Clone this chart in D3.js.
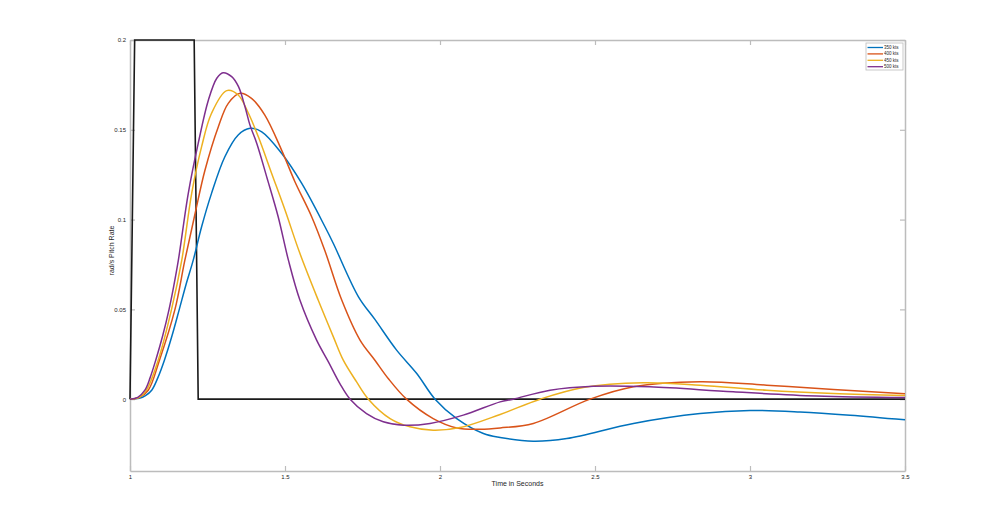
<!DOCTYPE html>
<html>
<head>
<meta charset="utf-8">
<script src="https://cdn.jsdelivr.net/npm/d3@7"></script>
<style>
    body { margin: 0; background: #fff; }
    text { font-family: "Liberation Sans", Arial, sans-serif; fill: #262626; }
</style>
</head>
<body>
<div class="chartDiv"></div>
<script>
"use strict";

//
/* Data: */
//

// [time (s), pitch rate (rad/s)]
var inputStep = [[1.0, 0], [1.015, 0.2], [1.207, 0.2], [1.22, 0], [3.5, 0]];

var kts350 = [[1.0, 0], [1.03, 0.0005], [1.05, 0.002], [1.07, 0.005], [1.09, 0.012], [1.111, 0.0217], [1.135, 0.035],
    [1.159, 0.05], [1.181, 0.064], [1.204, 0.0774], [1.231, 0.096], [1.263, 0.1146], [1.306, 0.135], [1.349, 0.1471],
    [1.387, 0.1508], [1.425, 0.1489], [1.489, 0.1369], [1.554, 0.1201], [1.629, 0.096], [1.656, 0.0867],
    [1.737, 0.057], [1.79, 0.0444], [1.86, 0.0273], [1.925, 0.0143], [1.984, 0], [2.054, -0.0108], [2.14, -0.0191],
    [2.194, -0.0213], [2.301, -0.0234], [2.409, -0.0219], [2.624, -0.0135], [2.839, -0.008], [3.0, -0.0063],
    [3.161, -0.0071], [3.323, -0.0089], [3.5, -0.0115]];

var kts400 = [[1.0, 0], [1.03, 0.001], [1.059, 0.005], [1.095, 0.0217], [1.145, 0.05], [1.177, 0.0774], [1.21, 0.1034],
    [1.242, 0.1276], [1.285, 0.1517], [1.317, 0.1647], [1.355, 0.1703], [1.392, 0.1675], [1.435, 0.1582],
    [1.489, 0.1387], [1.532, 0.1211], [1.586, 0.1016], [1.629, 0.0825], [1.683, 0.0552], [1.742, 0.0329],
    [1.79, 0.0217], [1.833, 0.0115], [1.892, 0], [1.978, -0.0108], [2.054, -0.016], [2.129, -0.0167], [2.194, -0.016],
    [2.301, -0.0135], [2.484, 0], [2.624, 0.0069], [2.839, 0.0097], [3.054, 0.0078], [3.269, 0.0054], [3.5, 0.003]];

var kts450 = [[1.0, 0], [1.03, 0.001], [1.053, 0.005], [1.091, 0.0217], [1.134, 0.05], [1.167, 0.0774], [1.199, 0.1146],
    [1.231, 0.1406], [1.263, 0.1592], [1.312, 0.1718], [1.349, 0.1694], [1.382, 0.1592], [1.414, 0.1461],
    [1.457, 0.1257], [1.5, 0.1053], [1.548, 0.0812], [1.607, 0.0552], [1.656, 0.0347], [1.688, 0.0217],
    [1.731, 0.0096], [1.769, 0], [1.839, -0.0108], [1.903, -0.0154], [1.978, -0.0173], [2.065, -0.0158],
    [2.194, -0.0085], [2.323, 0], [2.462, 0.0065], [2.656, 0.0091], [2.839, 0.0078], [3.054, 0.005], [3.269, 0.0032],
    [3.5, 0.0021]];

var kts500 = [[1.0, 0], [1.025, 0.001], [1.048, 0.005], [1.065, 0.012], [1.083, 0.0217], [1.105, 0.035], [1.126, 0.05],
    [1.14, 0.062], [1.156, 0.0774], [1.188, 0.1146], [1.22, 0.1424], [1.253, 0.1666], [1.28, 0.1787], [1.3, 0.1818],
    [1.328, 0.1796], [1.35, 0.174], [1.371, 0.1628], [1.387, 0.1526], [1.409, 0.1424], [1.441, 0.1238],
    [1.478, 0.1016], [1.511, 0.0774], [1.548, 0.0552], [1.602, 0.0329], [1.64, 0.0208], [1.677, 0.0087], [1.71, 0],
    [1.763, -0.008], [1.817, -0.0126], [1.882, -0.0145], [1.968, -0.0135], [2.075, -0.0089], [2.194, -0.0015],
    [2.236, 0], [2.355, 0.005], [2.495, 0.0072], [2.677, 0.0069], [2.946, 0.0041], [3.215, 0.0018], [3.5, 0.0009]];

var seriesNames = ["350 kts", "400 kts", "450 kts", "500 kts"];
var seriesData = [kts350, kts400, kts450, kts500];
var seriesColors = ["#0072BD", "#D95319", "#EDB120", "#7E2F8E"];

var xTicks = [1, 1.5, 2, 2.5, 3, 3.5];
var yTicks = [0, 0.05, 0.1, 0.15, 0.2];

var xTitle = "Time in Seconds";
var yTitle = "rad/s Pitch Rate";


//
/* Chart: */
//

var width = 1000;
var height = 529;
var margin = { top: 40, right: 95, bottom: 58, left: 130 };

var plotW = width - margin.left - margin.right;
var plotH = height - margin.top - margin.bottom;

var xScale = d3.scaleLinear().domain([1, 3.5]).range([0, plotW]);
var yScale = d3.scaleLinear().domain([-0.04, 0.2]).range([plotH, 0]);

var svg = d3.select(".chartDiv").append("svg")
    .attr("width", width)
    .attr("height", height);

var g = svg.append("g")
    .attr("transform", "translate(" + margin.left + "," + margin.top + ")");

// ticks inside the box, on all four sides
var tickLen = 5;
var axisColor = "#bcbcbc";

var xAxisBottom = d3.axisBottom(xScale).tickValues(xTicks).tickSizeInner(-tickLen).tickSizeOuter(0)
    .tickPadding(4).tickFormat(d3.format("~g"));
var xAxisTop = d3.axisTop(xScale).tickValues(xTicks).tickSizeInner(-tickLen).tickSizeOuter(0).tickFormat("");
var yAxisLeft = d3.axisLeft(yScale).tickValues(yTicks).tickSizeInner(-tickLen).tickSizeOuter(0)
    .tickPadding(4).tickFormat(d3.format("~g"));
var yAxisRight = d3.axisRight(yScale).tickValues(yTicks).tickSizeInner(-tickLen).tickSizeOuter(0).tickFormat("");

var axes = [
    g.append("g").attr("transform", "translate(0," + plotH + ")").call(xAxisBottom),
    g.append("g").call(xAxisTop),
    g.append("g").call(yAxisLeft),
    g.append("g").attr("transform", "translate(" + plotW + ",0)").call(yAxisRight)
];

axes.forEach(function(a)
{
    a.select(".domain").attr("stroke", axisColor).attr("stroke-width", 1.5);
    a.selectAll(".tick line").attr("stroke", axisColor).attr("stroke-width", 1.2);
    a.selectAll(".tick text").attr("font-size", 6).attr("fill", "#262626");
});

// axis titles
g.append("text")
    .attr("x", plotW / 2)
    .attr("y", plotH + 15)
    .attr("text-anchor", "middle")
    .attr("font-size", 7)
    .text(xTitle);

g.append("text")
    .attr("transform", "translate(-16," + (plotH / 2 - 5) + ") rotate(-90)")
    .attr("text-anchor", "middle")
    .attr("font-size", 7)
    .text(yTitle);

// lines
var line = d3.line()
    .x(function(d) { return xScale(d[0]); })
    .y(function(d) { return yScale(d[1]); })
    .curve(d3.curveCatmullRom.alpha(0.5));

var stepLine = d3.line()
    .x(function(d) { return xScale(d[0]); })
    .y(function(d) { return yScale(d[1]); });

g.append("path")
    .datum(inputStep)
    .attr("fill", "none")
    .attr("stroke", "#1a1a1a")
    .attr("stroke-width", 1.6)
    .attr("d", stepLine);

g.selectAll(".series")
    .data(seriesData).enter()
    .append("path")
    .attr("class", "series")
    .attr("fill", "none")
    .attr("stroke", function(d, i) { return seriesColors[i]; })
    .attr("stroke-width", 1.5)
    .attr("d", line);

// legend
var legend = g.append("g")
    .attr("transform", "translate(" + (plotW - 39) + ",3)");

legend.append("rect")
    .attr("width", 37)
    .attr("height", 27)
    .attr("fill", "#fff")
    .attr("stroke", "#bcbcbc")
    .attr("stroke-width", 0.8);

var rows = legend.selectAll(".row")
    .data(seriesNames).enter()
    .append("g")
    .attr("class", "row")
    .attr("transform", function(d, i) { return "translate(0," + (4.5 + i * 6.4) + ")"; });

rows.append("line")
    .attr("x1", 1.5).attr("x2", 17)
    .attr("stroke", function(d, i) { return seriesColors[i]; })
    .attr("stroke-width", 1.3);

rows.append("text")
    .attr("x", 18)
    .attr("dy", "0.35em")
    .attr("font-size", 4.5)
    .text(function(d) { return d; });
</script>
</body>
</html>
